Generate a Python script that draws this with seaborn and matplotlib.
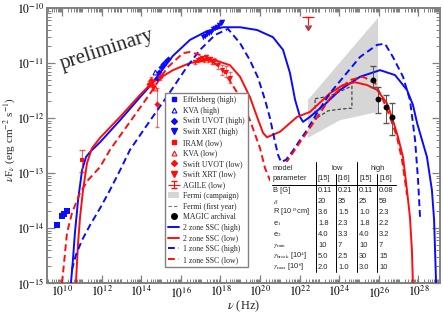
import numpy as np
import matplotlib
matplotlib.use("Agg")
import matplotlib.pyplot as plt
import seaborn as sns
from matplotlib.lines import Line2D
from matplotlib.patches import Patch, Rectangle
from matplotlib.ticker import FixedLocator, FuncFormatter, NullFormatter

# ---------------- data (log10 nu [Hz], log10 nuFnu [erg cm^-2 s^-1]) ----------------
# 2 zone SSC (high)
ssc2_high_lognu = [10.45, 10.55, 10.65, 10.81, 11.01, 11.21, 11.41, 11.92, 12.93, 13.94, 14.44, 14.95,
                   15.60, 16.46, 17.32, 18.13, 18.99, 19.85, 20.65, 21.16, 21.51, 21.77, 22.02, 22.17,
                   22.52, 22.88, 23.28, 24.04, 25.05, 26.06, 26.82, 27.42, 27.72, 27.93, 28.43, 28.68,
                   28.79, 28.89]
ssc2_high_logf = [-15.00, -14.58, -14.09, -13.49, -12.95, -12.71, -12.62, -12.44, -12.04, -11.62, -11.42,
                  -11.18, -10.87, -10.58, -10.42, -10.35, -10.35, -10.40, -10.53, -10.76, -11.18, -11.67,
                  -11.98, -12.07, -11.98, -11.87, -11.75, -11.49, -11.25, -11.13, -11.22, -11.49, -11.76,
                  -12.09, -12.71, -13.31, -13.85, -15.00]
# 2 zone SSC (low)
ssc2_low_lognu = [10.70, 10.81, 10.91, 11.06, 11.26, 11.51, 11.92, 12.93, 13.94, 14.54, 14.95, 15.60,
                  16.46, 17.32, 17.73, 18.48, 18.99, 19.49, 19.85, 20.15, 20.35, 21.01, 21.87, 22.52,
                  23.53, 24.19, 24.80, 25.40, 25.91, 26.41, 26.71, 26.97, 27.22, 27.42, 27.57, 27.67,
                  27.72]
ssc2_low_logf = [-15.00, -14.27, -13.80, -13.31, -12.82, -12.55, -12.36, -11.98, -11.58, -11.36, -11.27,
                 -11.13, -11.00, -10.95, -10.95, -11.04, -11.25, -11.62, -11.98, -12.27, -12.35, -12.25,
                 -11.98, -11.89, -11.55, -11.40, -11.35, -11.40, -11.49, -11.73, -12.04, -12.35, -12.71,
                 -13.31, -13.80, -14.40, -15.00]
# 1 zone SSC (high)
ssc1_high_lognu = [10.50, 10.70, 11.01, 11.41, 11.92, 12.42, 12.93, 13.43, 14.44, 15.45, 16.31, 16.97,
                   17.73, 18.38, 18.99, 19.49, 19.90, 20.25, 20.50, 20.76, 20.91, 21.06, 21.31, 21.61,
                   22.02, 22.37, 22.88, 23.53, 24.29, 25.05, 25.91, 26.31, 26.71, 27.22, 27.57, 27.83,
                   27.98, 28.08]
ssc1_high_logf = [-14.76, -14.49, -14.22, -13.95, -13.64, -13.31, -12.95, -12.58, -12.05, -11.53, -11.07,
                  -10.76, -10.49, -10.38, -10.64, -10.95, -11.27, -11.67, -12.00, -12.44, -12.67, -12.80,
                  -12.76, -12.62, -12.40, -12.22, -11.91, -11.55, -11.22, -10.89, -10.67, -10.65, -10.89,
                  -11.25, -11.67, -12.40, -13.13, -13.80]
# 1 zone SSC (low)
ssc1_low_lognu = [10.00, 10.25, 10.50, 10.91, 11.31, 11.92, 12.42, 13.43, 14.44, 15.30, 16.11, 16.46,
                  17.32, 18.13, 18.99, 19.49, 20.00, 20.25, 20.50, 20.70, 21.01, 21.51, 22.02, 22.52,
                  23.03, 23.53, 24.54, 25.20, 25.81, 26.21, 26.56, 26.92, 27.17, 27.32, 27.42]
ssc1_low_logf = [-15.00, -14.09, -13.73, -13.36, -13.13, -12.89, -12.58, -12.07, -11.56, -11.09, -10.82,
                 -10.80, -10.89, -11.13, -11.62, -12.04, -12.55, -12.91, -13.13, -13.18, -12.98, -12.71,
                 -12.44, -12.18, -11.91, -11.64, -11.31, -11.25, -11.36, -11.67, -11.98, -12.35, -12.76,
                 -13.13, -13.40]

# high state data
eff_lognu = [9.75, 10.00, 10.10, 10.25]
eff_logf = [-13.95, -13.78, -13.75, -13.69]
kva_high_lognu = [14.67]
kva_high_logf = [-11.16]
uvot_high_lognu = [14.80, 14.90, 15.00, 15.10, 15.25, 15.35]
uvot_high_logf = [-11.27, -11.16, -11.07, -11.02, -10.96, -10.93]
xrt_high_lognu = [17.12, 17.22, 17.32, 17.42, 17.52, 17.62, 17.72, 17.82, 17.92, 18.02, 18.10]
xrt_high_logf = [-10.53, -10.51, -10.47, -10.45, -10.43, -10.39, -10.37, -10.34, -10.31, -10.28, -10.26]

# low state data
iram_lognu = [11.01]
iram_logf = [-12.76]
iram_err_lo = [0.22]
iram_err_hi = [0.18]
kva_low_lognu = [14.67]
kva_low_logf = [-11.45]
uvot_low_lognu = [14.39, 14.49, 14.59, 14.80, 14.95]
uvot_low_logf = [-11.38, -11.31, -11.42, -11.75, -11.25]
uvot_low_err_lo = [0.05, 0.05, 0.05, 0.41, 0.05]
uvot_low_err_hi = [0.05, 0.05, 0.05, 0.30, 0.05]
xrt_low_lognu = [16.71, 16.87, 16.97, 17.07, 17.17, 17.27, 17.37, 17.47, 17.57, 17.67, 17.88, 18.08,
                 18.28, 18.48]
xrt_low_logf = [-10.98, -10.95, -10.93, -10.91, -10.95, -10.89, -10.95, -10.93, -10.98, -10.96, -11.04,
                -11.13, -11.16, -11.27]
xrt_low_err = [0.03, 0.03, 0.03, 0.03, 0.03, 0.03, 0.03, 0.04, 0.04, 0.05, 0.07, 0.09, 0.10, 0.10]
agile_lognu = [22.42]
agile_logf = [-10.16]
agile_arrow = [0.15]

# Fermi
fermi_camp_lognu = [22.42, 25.96, 25.96, 24.04, 22.42]
fermi_camp_logf = [-11.67, -10.18, -11.89, -12.04, -12.36]
fermi_year_lognu = [22.78, 23.53, 24.64, 24.64, 24.04, 23.43, 22.78, 22.78]
fermi_year_logf = [-11.65, -11.60, -11.42, -11.82, -11.84, -11.87, -12.02, -11.65]

# MAGIC archival
magic_lognu = [25.70, 25.96, 26.36, 26.66]
magic_logf = [-11.31, -11.65, -11.80, -11.98]
magic_err_hi = [0.26, 0.21, 0.22, 0.25]
magic_err_lo = [0.13, 0.26, 0.29, 0.33]

# table
table_params = ["B [G]", r"$\delta$", r"R [10$^{15}$cm]", r"e$_1$", r"e$_2$", r"$\gamma_{\rm min}$",
                r"$\gamma_{\rm break}$ [10$^4$]", r"$\gamma_{\rm max}$ [10$^6$]"]
table_low15 = ["0.11", "20", "3.6", "1.8", "4.0", "10", "5.0", "2.0"]
table_low16 = ["0.21", "35", "1.5", "2.3", "3.3", "7", "2.5", "1.0"]
table_high15 = ["0.11", "25", "1.0", "1.8", "4.0", "10", "30", "3.0"]
table_high16 = ["0.08", "59", "2.3", "2.2", "3.2", "7", "15", "10"]

legend_labels = ["Effelsberg (high)", "KVA (high)", "Swift UVOT (high)", "Swift XRT (high)",
                 "IRAM (low)", "KVA (low)", "Swift UVOT (low)", "Swift XRT (low)", "AGILE (low)",
                 "Fermi (campaign)", "Fermi (first year)", "MAGIC archival",
                 "2 zone SSC (high)", "2 zone SSC (low)", "1 zone SSC (high)", "1 zone SSC (low)"]

# ---------------- style ----------------
sns.set_theme(style="ticks")
plt.rcParams["font.family"] = ["Liberation Serif", "DejaVu Serif"]
plt.rcParams["mathtext.fontset"] = "stix"

BLUE = "#0a0aff"
RED = "#ff0d0d"
GRAY = "#d6d6d6"
SPINE = "#808080"
DASH = (0, (3.5, 2.0))

W, H = 443, 314
fig = plt.figure(figsize=(W / 100, H / 100), dpi=100)
fig.patch.set_facecolor("white")
L, R, T, B = 47, 440, 8, 283
ax = fig.add_axes([L / W, (H - B) / H, (R - L) / W, (B - T) / H])
ax.set_facecolor("white")


def P(px, py):
    return ((px - L) / (R - L), (B - py) / (B - T))


def p10(a):
    return 10 ** np.asarray(a, dtype=float)


ax.set_xscale("log")
ax.set_yscale("log")

# Fermi campaign band
ax.fill(p10(fermi_camp_lognu), p10(fermi_camp_logf), color=GRAY, lw=0, zorder=1)
# Fermi first year bow-tie
ax.plot(p10(fermi_year_lognu), p10(fermi_year_logf), color="#333333", lw=0.8,
        ls=(0, (3, 2)), zorder=2)

# model curves
for lx, ly, c, d in [(ssc2_high_lognu, ssc2_high_logf, BLUE, False),
                     (ssc2_low_lognu, ssc2_low_logf, RED, False),
                     (ssc1_high_lognu, ssc1_high_logf, BLUE, True),
                     (ssc1_low_lognu, ssc1_low_logf, RED, True)]:
    kw = dict(x=p10(lx), y=p10(ly), ax=ax, color=c, linewidth=1.4, sort=False,
              estimator=None, zorder=3)
    if d:
        kw["linestyle"] = DASH
    sns.lineplot(**kw)


def errs(ly, lo, hi):
    y = p10(ly)
    return [y - p10(np.asarray(ly) - np.asarray(lo)), p10(np.asarray(ly) + np.asarray(hi)) - y]


# error bars
ax.errorbar(p10(iram_lognu), p10(iram_logf), yerr=errs(iram_logf, iram_err_lo, iram_err_hi),
            fmt="none", ecolor=RED, elinewidth=0.7, capsize=2, alpha=0.7, zorder=4)
ax.errorbar(p10(uvot_low_lognu), p10(uvot_low_logf), yerr=errs(uvot_low_logf, uvot_low_err_lo, uvot_low_err_hi),
            fmt="none", ecolor=RED, elinewidth=0.7, capsize=1.5, alpha=0.6, zorder=4)
ax.errorbar(p10(xrt_low_lognu), p10(xrt_low_logf), yerr=errs(xrt_low_logf, xrt_low_err, xrt_low_err),
            fmt="none", ecolor=RED, elinewidth=0.6, capsize=1.2, alpha=0.6, zorder=4)
ax.errorbar(p10(magic_lognu), p10(magic_logf), yerr=errs(magic_logf, magic_err_lo, magic_err_hi),
            fmt="none", ecolor="#555555", elinewidth=0.7, capsize=2, zorder=4)

# data points
sns.scatterplot(x=p10(eff_lognu), y=p10(eff_logf), marker="s", s=14, color=BLUE, linewidth=0, ax=ax, zorder=5)
ax.plot(p10(kva_high_lognu), p10(kva_high_logf), ls="none", marker="^", ms=3.5, mfc="none", mec=BLUE, mew=0.8, zorder=5)
sns.scatterplot(x=p10(uvot_high_lognu), y=p10(uvot_high_logf), marker="D", s=10, color=BLUE, linewidth=0, ax=ax, zorder=5)
sns.scatterplot(x=p10(xrt_high_lognu), y=p10(xrt_high_logf), marker="v", s=16, color=BLUE, linewidth=0, ax=ax, zorder=5)
sns.scatterplot(x=p10(iram_lognu), y=p10(iram_logf), marker="s", s=12, color=RED, linewidth=0, ax=ax, zorder=5)
ax.plot(p10(kva_low_lognu), p10(kva_low_logf), ls="none", marker="^", ms=3.5, mfc="none", mec=RED, mew=0.8, zorder=5)
sns.scatterplot(x=p10(uvot_low_lognu), y=p10(uvot_low_logf), marker="D", s=10, color=RED, linewidth=0, ax=ax, zorder=5)
sns.scatterplot(x=p10(xrt_low_lognu), y=p10(xrt_low_logf), marker="v", s=14, color=RED, linewidth=0, ax=ax, zorder=5)
sns.scatterplot(x=p10(magic_lognu), y=p10(magic_logf), marker="o", s=18, color="black", linewidth=0, ax=ax, zorder=6)

# AGILE upper limit
ag_y = p10(agile_logf)
ag = ax.errorbar(p10(agile_lognu), ag_y, yerr=[ag_y - p10(np.asarray(agile_logf) - np.asarray(agile_arrow)), [0]],
                 uplims=True, fmt="none", ecolor=RED, elinewidth=0.8, capsize=2.5, zorder=5)
ag_cap, = ax.plot(p10(agile_lognu), ag_y, ls="none", marker="_", ms=8, mew=0.8, color=RED, zorder=5)

# axes
ax.set_xlim(10 ** 9.24, 10 ** (9.24 + (R - L) / 19.8))
ax.set_ylim(1e-15, 1e-10)
xmaj = [10.0 ** k for k in range(10, 29, 2)]
xmin = [m * 10.0 ** k for k in range(9, 30) for m in range(1, 10) if not (m == 1 and k % 2 == 0)]
ax.xaxis.set_major_locator(FixedLocator(xmaj))
ax.xaxis.set_minor_locator(FixedLocator(xmin))
ymaj = [10.0 ** k for k in range(-15, -9)]
ymin = [m * 10.0 ** k for k in range(-16, -9) for m in range(2, 10)]
ax.yaxis.set_major_locator(FixedLocator(ymaj))
ax.yaxis.set_minor_locator(FixedLocator(ymin))
fmt = FuncFormatter(lambda v, p: r"$10^{%d}$" % int(round(np.log10(v))))
ax.xaxis.set_major_formatter(fmt)
ax.yaxis.set_major_formatter(fmt)
ax.xaxis.set_minor_formatter(NullFormatter())
ax.yaxis.set_minor_formatter(NullFormatter())
ax.tick_params(which="both", direction="in", top=True, right=True, color=SPINE, labelsize=8.5,
               labelcolor="black")
ax.tick_params(which="major", length=6, width=0.9, pad=2)
ax.tick_params(axis="x", which="major", pad=1.5)
ax.tick_params(which="minor", length=3, width=0.7)
for s in ax.spines.values():
    s.set_color(SPINE)
    s.set_linewidth(1.4)

ax.set_xlabel(r"$\nu$ (Hz)", fontsize=9)
ax.xaxis.set_label_coords(0.5, -0.056)
ax.set_ylabel(r"$\nu$F$_\nu$ (erg cm$^{-2}$ s$^{-1}$)", fontsize=8)
ax.yaxis.set_label_coords(-0.077, 0.52)

ax.text(*P(107, 50), "preliminary", transform=ax.transAxes, fontsize=15, rotation=18,
        ha="center", va="center", zorder=7)

# legend
handles = [
    Line2D([], [], ls="none", marker="s", color=BLUE, ms=3),
    Line2D([], [], ls="none", marker="^", mfc="none", mec=BLUE, ms=3.5, mew=0.8),
    Line2D([], [], ls="none", marker="D", color=BLUE, ms=3),
    Line2D([], [], ls="none", marker="v", color=BLUE, ms=4),
    Line2D([], [], ls="none", marker="s", color=RED, ms=3),
    Line2D([], [], ls="none", marker="^", mfc="none", mec=RED, ms=3.5, mew=0.8),
    Line2D([], [], ls="none", marker="D", color=RED, ms=3),
    Line2D([], [], ls="none", marker="v", color=RED, ms=4),
    (ag, ag_cap),
    Patch(fc=GRAY, ec="none"),
    Line2D([], [], color="#777777", lw=0.8, ls=(0, (3, 2))),
    Line2D([], [], ls="none", marker="o", color="black", ms=4),
    Line2D([], [], color=BLUE, lw=1.4),
    Line2D([], [], color=RED, lw=1.4),
    Line2D([], [], color=BLUE, lw=1.4, ls=DASH),
    Line2D([], [], color=RED, lw=1.4, ls=DASH),
]
leg = ax.legend(handles, legend_labels, loc="upper left", bbox_to_anchor=P(165, 93), borderaxespad=0,
                fontsize=5.6, frameon=True, fancybox=False, labelspacing=0.34, handlelength=1.4,
                handletextpad=0.5, borderpad=0.4)
leg.get_frame().set_edgecolor(SPINE)
leg.get_frame().set_linewidth(1.0)
leg.get_frame().set_alpha(1)
leg.set_zorder(10)

# parameter table
x0, y0 = P(270, 275)
x1, y1 = P(397, 162)
ax.add_patch(Rectangle((x0, y0), x1 - x0, y1 - y0, transform=ax.transAxes, fc="white", ec="none", zorder=8))
tkw = dict(transform=ax.transAxes, fontsize=5.4, zorder=9, family=["Liberation Sans", "DejaVu Sans"],
           va="center")
ax.text(*P(273, 168), "model", **tkw)
ax.text(*P(273, 179), "parameter", **tkw)
ax.text(*P(337, 169), "low", ha="center", **tkw)
ax.text(*P(378, 169), "high", ha="center", **tkw)
col_x = [318, 338, 359, 379]
for cx, ref in zip(col_x, ["[15]", "[16]", "[15]", "[16]"]):
    ax.text(*P(cx, 179), ref, **tkw)
for i, (pname, a, b, c, d) in enumerate(zip(table_params, table_low15, table_low16, table_high15, table_high16)):
    yy = 190.5 + 11 * i
    ax.text(*P(273, yy), pname, **tkw)
    for cx, val in zip(col_x, [a, b, c, d]):
        ax.text(*P(cx, yy), val, **tkw)
lkw = dict(transform=ax.transAxes, color="black", lw=0.7, zorder=9)
ax.add_line(Line2D([P(272, 0)[0], P(396, 0)[0]], [P(0, 185)[1]] * 2, **lkw))
for vx, top in [(316, 162), (357, 162), (336, 174), (377, 174)]:
    ax.add_line(Line2D([P(vx, 0)[0]] * 2, [P(0, top)[1], P(0, 272)[1]], **lkw))

fig.savefig("out.png", dpi=100)
